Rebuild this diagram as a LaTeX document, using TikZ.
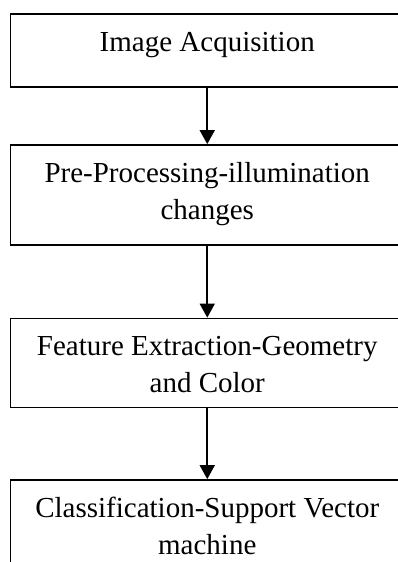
\documentclass[tikz,border=0pt]{standalone}
\usepackage{fontspec}
\setmainfont{Liberation Serif}
\usetikzlibrary{arrows.meta}
\tikzset{
  stepbox/.style={draw=black, line width=1.8pt, rectangle, minimum width=393.5pt, inner sep=0pt},
  txt/.style={anchor=base, inner sep=0pt, font=\fontsize{29}{37}\selectfont},
  flow/.style={line width=1.8pt, -{Triangle[length=14pt,width=15pt]}}
}
\newcommand{\boxtext}[1]{\parbox[t]{392pt}{\centering #1}}
\begin{document}
\begin{tikzpicture}[x=1pt,y=1pt]
\useasboundingbox (0,0) rectangle (398,-562);
\clip (0,0) rectangle (398,-562);
\node[stepbox, minimum height=73pt] (b1) at (207.25,-50.5) {};
\node[stepbox, minimum height=100pt] (b2) at (207.25,-195) {};
\node[stepbox, minimum height=89pt] (b3) at (207.25,-363) {};
\node[stepbox, minimum height=130pt] (b4) at (207.25,-545) {};
\node[txt] (t1) at ([yshift=-38pt]b1.north) {\boxtext{Image Acquisition}};
\node[txt] (t2) at ([yshift=-38pt]b2.north) {\boxtext{Pre-Processing-illumination\\changes}};
\node[txt] (t3) at ([yshift=-38pt]b3.north) {\boxtext{Feature Extraction-Geometry\\and Color}};
\node[txt] (t4) at ([yshift=-38pt]b4.north) {\boxtext{Classification-Support Vector\\machine}};
\draw[flow] (b1.south) -- (b2.north);
\draw[flow] (b2.south) -- (b3.north);
\draw[flow] (b3.south) -- (b4.north);
\end{tikzpicture}
\end{document}
